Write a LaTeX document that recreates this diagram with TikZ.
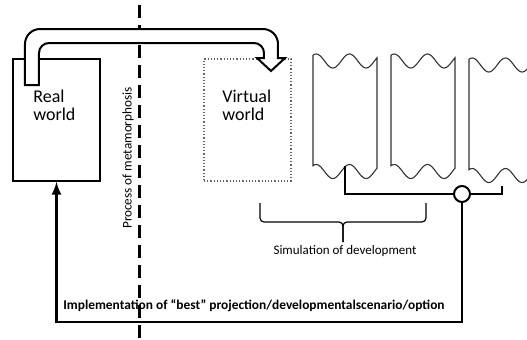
\documentclass[tikz,border=0pt]{standalone}
\usepackage{fontspec}
\setmainfont{Carlito}
\tikzset{
	world/.style={draw,minimum width=43.5pt,minimum height=61pt,inner sep=0pt},
	wtext/.style={align=left,inner sep=0pt,font=\fontsize{9}{9}\selectfont},
	wave/.style={line width=0.55pt,black!80},
	feed/.style={line width=1.2pt},
}
\begin{document}
\begin{tikzpicture}[x=0.5pt,y=-0.5pt]
		\useasboundingbox (0,0) rectangle (527,339);
		\node[world,line width=0.7pt] (real) at (56.5,120) {};
		\node[world,densely dotted,black!60,line width=0.6pt] (virtual) at (247.5,120) {};
		\node[wtext,anchor=north west] (realtxt) at (33,89.5) {Real\\world};
		\node[wtext,anchor=north west] (virtualtxt) at (222,89.5) {Virtual\\world};

		\draw[line width=1.5pt,dash pattern=on 6.5pt off 3.5pt] (140,5) -- (140,339);
		\node[rotate=90,inner sep=0pt,font=\fontsize{6.6}{6.6}\selectfont] (meta) at (128,158) {Process of metamorphosis};

		\draw[line width=1pt,fill=white] (25,85) [rounded corners=7.5pt] -- (25,29) -- (278,29) [sharp corners] -- (278,58) -- (285,58) -- (271,71) -- (257,58) -- (264,58) [rounded corners=5pt] -- (264,43) -- (39,43) [sharp corners] -- (39,85) -- cycle;

		\foreach \x/\y/\n in {313/0/1,391/0/2,469/4/3}{
		    \draw[wave] plot[variable=\t,domain=0:1,samples=60,smooth] ({\x+64*\t},{\y+61-7*cos(360*(\t-0.05)/0.52)})
		        -- plot[variable=\t,domain=1:0,samples=60,smooth] ({\x+64*\t},{\y+171.5-7*cos(360*(\t-0.05)/0.52)}) -- cycle;
		}
		\coordinate (sim1) at (345,166);
		\coordinate (sim3) at (502,186);

		\node[circle,draw,line width=1pt,minimum size=8pt,inner sep=0pt] (hub) at (462,194) {};
		\draw[line width=1pt] (sim1) |- (hub.west);
		\draw[line width=0.8pt] (hub.east) -| (sim3);

		\begin{scope}[line width=0.6pt,rounded corners=2pt]
		    \draw (260,203) -- (260,222) -- (343,222) -- (343,242);
		    \draw (426,203) -- (426,222) -- (343,222) -- (343,242);
		\end{scope}
		\node[inner sep=0pt,font=\fontsize{6.5}{6.5}\selectfont] (sim) at (345,251) {Simulation of development};

		\coordinate (turn) at (462,322);
		\draw[feed,->,>=latex] (hub.south) -- (turn) -| (real.south);
		\node[inner sep=0pt,font=\bfseries\fontsize{6.7}{6.7}\selectfont] (best) at (254,306) {Implementation of “best” projection/developmentalscenario/option};
	    \end{tikzpicture}
\end{document}
